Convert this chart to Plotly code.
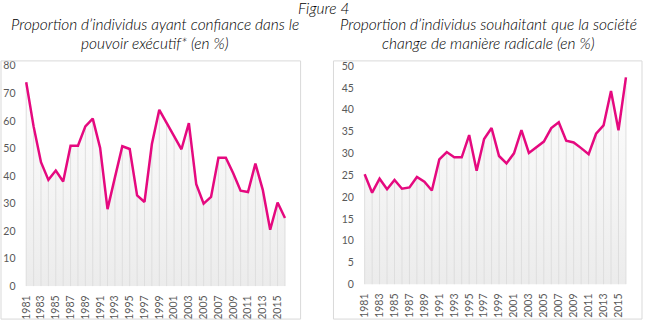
import plotly.graph_objects as go

years = list(range(1981, 2017))
confiance = [74, 58, 45, 38.6, 42, 38, 51, 51, 58, 60.8, 50.2, 28, 39.5, 50.8, 49.8, 33, 30.6,
             51.6, 64, 59.5, 54.5, 49.7, 59.2, 37, 30, 32.4, 46.6, 46.6, 41, 34.7, 34.2, 44.5,
             35, 20.5, 30.4, 24.8]
radical = [25.2, 21, 24.2, 21.8, 23.9, 21.9, 22.2, 24.6, 23.5, 21.5, 28.6, 30.3, 29.1, 29.1,
           34.2, 26, 33.3, 35.8, 29.4, 27.7, 30, 35.3, 30.1, 31.4, 32.7, 35.8, 37.1, 32.9,
           32.5, 31.2, 29.8, 34.5, 36.4, 44.3, 35.3, 47.4]
tick_years = list(range(1981, 2016, 2))
title_left = ["Proportion d’individus ayant confiance dans le", "pouvoir exécutif* (en %)"]
title_right = ["Proportion d’individus souhaitant que la société", "change de manière radicale (en %)"]
fig_label = "Figure 4"

LINE = "#E5097F"
GRID = "#dedede"
FONT = "Lato"
TICKC = "#595959"

fig = go.Figure()

def add_panel(vals, xa, ya, ymax):
    fig.add_trace(go.Scatter(
        x=years, y=vals, mode="lines", line=dict(width=0), fill="tozeroy",
        fillgradient=dict(type="vertical", colorscale=[[0, "#ebebeb"], [1, "#ffffff"]],
                          start=0, stop=ymax),
        xaxis=xa, yaxis=ya, hoverinfo="skip", showlegend=False))
    gx, gy = [], []
    for yr, v in zip(years, vals):
        gx += [yr, yr, None]
        gy += [0, v, None]
    fig.add_trace(go.Scatter(x=gx, y=gy, mode="lines", line=dict(color=GRID, width=1),
                             xaxis=xa, yaxis=ya, hoverinfo="skip", showlegend=False))
    fig.add_trace(go.Scatter(x=years, y=vals, mode="lines",
                             line=dict(color=LINE, width=2.5),
                             xaxis=xa, yaxis=ya, showlegend=False))

add_panel(confiance, "x", "y", 80)
add_panel(radical, "x2", "y2", 50)

xcommon = dict(tickmode="array", tickvals=tick_years, ticktext=[str(t) for t in tick_years],
               tickangle=-90, showgrid=False, zeroline=False, showline=False, ticks="",
               ticklabelstandoff=6,
               tickfont=dict(family=FONT, size=10.5, color=TICKC), range=[1980.5, 2016.5])
ycommon = dict(showgrid=False, zeroline=False, showline=False, ticks="",
               ticklabelstandoff=6,
               tickfont=dict(family=FONT, size=10.5, color=TICKC))

tfont = dict(family=FONT, size=15.5, color="black", style="italic", weight=300)
annots = []
for lines, cx in ((title_left, 153), (title_right, 488)):
    for txt, cy in zip(lines, (19, 38.5)):
        annots.append(dict(text=txt, xref="paper", yref="paper", x=cx/645, y=1 - cy/327,
                           xanchor="center", yanchor="middle", showarrow=False,
                           borderpad=0, font=tfont))
annots.append(dict(text=fig_label, xref="paper", yref="paper", x=322/645, y=1 - 2/327,
                   xanchor="center", yanchor="middle", showarrow=False, borderpad=0,
                   font=tfont))

fig.update_layout(
    width=645, height=327, margin=dict(l=0, r=0, t=0, b=0),
    paper_bgcolor="white", plot_bgcolor="rgba(0,0,0,0)",
    xaxis=dict(domain=[19.6/645, 287/645], anchor="y", **xcommon),
    yaxis=dict(domain=[36/327, 265/327], range=[0, 80], dtick=10, anchor="x", **ycommon),
    xaxis2=dict(domain=[359.6/645, 629.6/645], anchor="y2", **xcommon),
    yaxis2=dict(domain=[38/327, 264.7/327], range=[0, 50], dtick=5, anchor="x2", **ycommon),
    shapes=[
        dict(type="rect", xref="paper", yref="paper", x0=-2/645, x1=299/645,
             y0=2/327, y1=270/327, line=dict(color="#d9d9d9", width=1)),
        dict(type="rect", xref="paper", yref="paper", x0=332/645, x1=642/645,
             y0=2/327, y1=270/327, line=dict(color="#d9d9d9", width=1)),
    ],
    annotations=annots,
)

fig.write_html("out.html")
